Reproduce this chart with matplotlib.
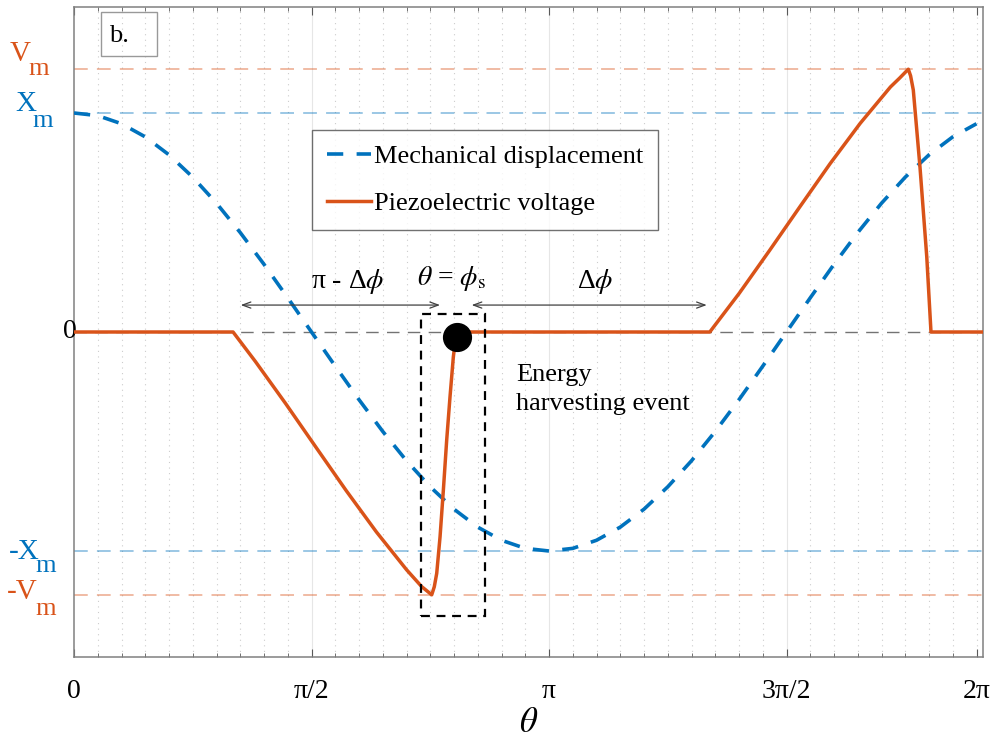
import numpy as np
import matplotlib
matplotlib.use("Agg")
import matplotlib.pyplot as plt
from matplotlib.patches import Rectangle

plt.rcParams['font.family'] = ['Liberation Serif', 'DejaVu Serif']
plt.rcParams['mathtext.fontset'] = 'stix'

# ---------------- data ----------------
PI = np.pi
Xm = 1.0
Vm = 1.2

# mechanical displacement sampled every pi/20 (0 .. 38*pi/20)
disp_theta = np.linspace(0, 38 * PI / 20, 39)
disp_vals = [1.000, 0.988, 0.951, 0.891, 0.809, 0.707, 0.588, 0.454, 0.309, 0.156,
             0.000, -0.156, -0.309, -0.454, -0.588, -0.707, -0.809, -0.891, -0.951, -0.988,
             -1.000, -0.988, -0.951, -0.891, -0.809, -0.707, -0.588, -0.454, -0.309, -0.156,
             0.000, 0.156, 0.309, 0.454, 0.588, 0.707, 0.809, 0.891, 0.951]

# piezoelectric voltage
volt_theta = [0.0, 1.052, 1.2, 1.4, 1.6, 1.8, 2.0, 2.2, 2.3, 2.366,
              2.383, 2.399, 2.421, 2.443, 2.465, 2.487, 2.509, 2.520, 2.531, 2.56,
              4.205, 4.4, 4.6, 4.8, 5.0, 5.2, 5.4, 5.46, 5.518,
              5.533, 5.551, 5.595, 5.640, 5.668, 6.02]
volt_vals = [0.0, 0.0, -0.135, -0.327, -0.526, -0.724, -0.913, -1.086, -1.163, -1.200,
             -1.163, -1.102, -0.935, -0.721, -0.493, -0.295, -0.113, -0.052, -0.025, 0.0,
             0.0, 0.177, 0.372, 0.571, 0.768, 0.953, 1.119, 1.159, 1.200,
             1.170, 1.105, 0.755, 0.344, 0.0, 0.0]

switch_theta = 2.531
switch_val = -0.025

tick_pos = [0, PI / 2, PI, 3 * PI / 2, 38 * PI / 20]
tick_labels = ['0', 'π/2', 'π', '3π/2', '2π']

# annotation geometry (data coords)
box_theta = (2.298, 2.72)
box_val = (-1.297, 0.082)
arrow_y = 0.123
arrow_left = (1.1025, 2.421)
arrow_right = (2.630, 4.185)

ORANGE = '#D95319'
BLUE = '#0072BD'

# ---------------- figure ----------------
fig = plt.figure(figsize=(10.05, 7.40), dpi=100)
ax = fig.add_axes([74 / 1005, 1 - 657 / 740, (983 - 74) / 1005, (657 - 7) / 740])
ax.set_xlim(0, 6.012)
ax.set_ylim(-1.484, 1.484)

# grid
for i in range(1, 39):
    t = i * PI / 20
    if i % 10 == 0:
        ax.axvline(t, color='0.9', lw=0.8, zorder=0)
    else:
        ax.axvline(t, color='0.8', lw=0.8, ls=(0, (1, 4)), zorder=0)

# reference lines
ax.axhline(Vm, color=ORANGE, alpha=0.5, lw=1.1, ls=(0, (9, 6)), zorder=1)
ax.axhline(-Vm, color=ORANGE, alpha=0.5, lw=1.1, ls=(0, (9, 6)), zorder=1)
ax.axhline(Xm, color=BLUE, alpha=0.5, lw=1.1, ls=(0, (9, 6)), zorder=1)
ax.axhline(-Xm, color=BLUE, alpha=0.5, lw=1.1, ls=(0, (9, 6)), zorder=1)
ax.axhline(0, color='0.45', lw=1.0, ls=(0, (9, 6)), zorder=1)

# curves
ax.plot(disp_theta, disp_vals, color=BLUE, lw=2.6, ls=(0, (4.5, 3.7)),
        label='Mechanical displacement', zorder=3)
ax.plot(volt_theta, volt_vals, color=ORANGE, lw=2.5, label='Piezoelectric voltage',
        zorder=4, solid_joinstyle='round')
ax.plot([switch_theta], [switch_val], 'o', color='black', ms=20, zorder=6)

# dashed box
ax.add_patch(Rectangle((box_theta[0], box_val[0]), box_theta[1] - box_theta[0],
                       box_val[1] - box_val[0], fill=False, ec='black', lw=1.6,
                       ls=(0, (4, 3)), zorder=5))

# arrows
for (a, b) in (arrow_left, arrow_right):
    ax.annotate('', xy=(b, arrow_y), xytext=(a, arrow_y),
                arrowprops=dict(arrowstyle='<->,head_length=0.6,head_width=0.22',
                                color='0.25', lw=0.9, shrinkA=0, shrinkB=0))

# annotation texts
ax.text(1.812, 0.232, 'π - Δ$\\phi$', ha='center', va='center', fontsize=20)
ax.text(2.50, 0.245, '$\\theta$ = $\\phi_\\mathrm{s}$', ha='center', va='center', fontsize=20)
ax.text(3.446, 0.232, 'Δ$\\phi$', ha='center', va='center', fontsize=20)
ax.text(2.923, -0.145, 'Energy\nharvesting event', ha='left', va='top', fontsize=19,
        linespacing=1.4)

# "b." box
ax.add_patch(Rectangle((0.0297, 0.9246), 0.0616, 0.0674, transform=ax.transAxes,
                       fill=False, ec='0.6', lw=1.0, zorder=6))
ax.text(0.0385, 0.955, 'b.', transform=ax.transAxes, ha='left', va='center', fontsize=19)

# axes styling
for s in ax.spines.values():
    s.set_color('0.5')
    s.set_linewidth(1.1)
ax.set_xticks(tick_pos)
ax.set_xticklabels(tick_labels, fontsize=20)
ax.set_xticks([i * PI / 20 for i in range(39)], minor=True)
ax.tick_params(axis='x', which='both', direction='in', top=True, bottom=True,
               color='0.35', pad=16)
ax.tick_params(axis='x', which='major', length=6)
ax.tick_params(axis='x', which='minor', length=3)
ax.set_yticks([])
ax.set_xlabel('$\\theta$', fontsize=25, labelpad=2)

# y labels (letter + subscript)
def ylab(main, sub, yv, color, d1, d2):
    ax.annotate(main, xy=(0, yv), xycoords=('axes fraction', 'data'),
                xytext=d1, textcoords='offset pixels', ha='center', va='center',
                fontsize=21, color=color, annotation_clip=False)
    ax.annotate(sub, xy=(0, yv), xycoords=('axes fraction', 'data'),
                xytext=d2, textcoords='offset pixels', ha='center', va='center',
                fontsize=19, color=color, annotation_clip=False)

ylab('V', 'm', Vm, ORANGE, (-54, 15), (-35, 0))
ylab('X', 'm', Xm, BLUE, (-48, 9), (-31, -8))
ylab('-X', 'm', -Xm, BLUE, (-50, -1), (-28, -15))
ylab('-V', 'm', -Vm, ORANGE, (-52, 3), (-28, -14))
ax.annotate('0', xy=(0, 0), xycoords=('axes fraction', 'data'), xytext=(-4, 0),
            textcoords='offset pixels', ha='center', va='center', fontsize=20,
            annotation_clip=False)

leg = ax.legend(loc='upper left', bbox_to_anchor=(312 / 1005, 1 - 130 / 740),
                bbox_transform=fig.transFigure, fontsize=19, frameon=True,
                fancybox=False, edgecolor='0.3', handlelength=1.7, handletextpad=0.1,
                labelspacing=0.9, borderaxespad=0, borderpad=0.55)
leg.get_frame().set_linewidth(1.0)

fig.savefig('out.png', dpi=100)
